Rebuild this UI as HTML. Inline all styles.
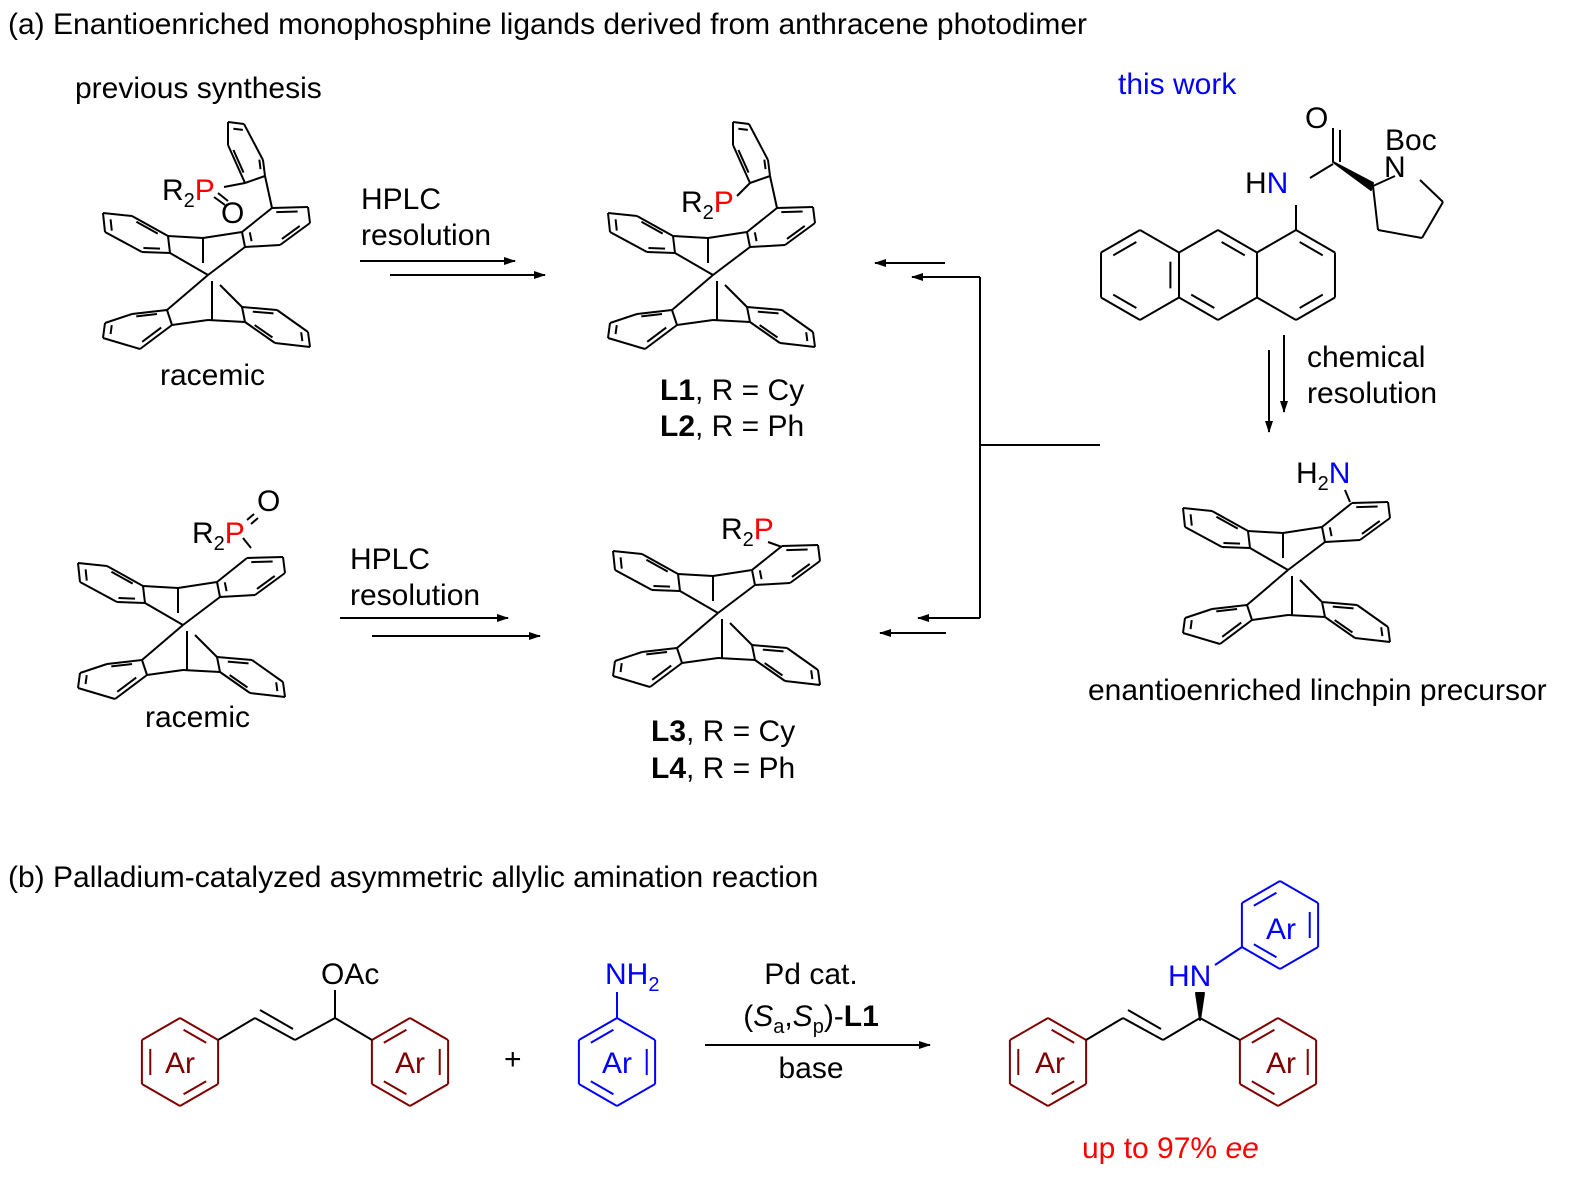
<!DOCTYPE html>
<html><head><meta charset="utf-8">
<style>
body{margin:0;background:#fff;}
svg{display:block;}
text{font-family:"Liberation Sans",Arial,sans-serif;font-size:30px;fill:#000;}
</style></head>
<body>
<svg id="s" width="1589" height="1192" viewBox="0 0 1589 1192" xmlns="http://www.w3.org/2000/svg">
<defs>
<marker id="ah" markerWidth="12" markerHeight="8" refX="11" refY="4" orient="auto" markerUnits="userSpaceOnUse">
<path d="M0,0 L12,4 L0,8 z" fill="#000"/></marker>
</defs>
<g id="g" stroke="#000" stroke-width="2" fill="none" stroke-linejoin="round"></g>
<text x="8" y="34">(a) Enantioenriched monophosphine ligands derived from anthracene photodimer</text>
<text x="75" y="98">previous synthesis</text>
<text x="1118" y="94" style="fill:#0000ff">this work</text>
<text x="160" y="385">racemic</text>
<text x="145" y="727">racemic</text>
<text x="361" y="209">HPLC</text>
<text x="361" y="245">resolution</text>
<text x="350" y="569">HPLC</text>
<text x="350" y="605">resolution</text>
<text x="660" y="400"><tspan font-weight="bold">L1</tspan>, R = Cy</text>
<text x="660" y="436"><tspan font-weight="bold">L2</tspan>, R = Ph</text>
<text x="651" y="741"><tspan font-weight="bold">L3</tspan>, R = Cy</text>
<text x="651" y="778"><tspan font-weight="bold">L4</tspan>, R = Ph</text>
<text x="1307" y="367">chemical</text>
<text x="1307" y="403">resolution</text>
<text x="1088" y="700">enantioenriched linchpin precursor</text>
<text x="162" y="200">R<tspan font-size="20" dy="7">2</tspan><tspan dy="-7" style="fill:#ff0000">P</tspan></text>
<text x="221" y="223">O</text>
<text x="681" y="212">R<tspan font-size="20" dy="7">2</tspan><tspan dy="-7" style="fill:#ff0000">P</tspan></text>
<text x="192" y="543">R<tspan font-size="20" dy="7">2</tspan><tspan dy="-7" style="fill:#ff0000">P</tspan></text>
<text x="257" y="511">O</text>
<text x="721" y="539">R<tspan font-size="20" dy="7">2</tspan><tspan dy="-7" style="fill:#ff0000">P</tspan></text>
<text x="1296" y="483">H<tspan font-size="20" dy="7">2</tspan><tspan dy="-7" style="fill:#0000ff">N</tspan></text>
<text x="1245" y="193">H<tspan style="fill:#0000ff">N</tspan></text>
<text x="1305" y="128">O</text>
<text x="1385" y="150">Boc</text>
<text x="1384" y="177">N</text>
<text x="8" y="887">(b) Palladium-catalyzed asymmetric allylic amination reaction</text>
<text x="321" y="984">OAc</text>
<text x="605" y="984" style="fill:#0000ff">NH<tspan font-size="20" dy="7">2</tspan></text>
<text x="504" y="1069">+</text>
<text x="811" y="984" text-anchor="middle">Pd cat.</text>
<text x="811" y="1026" text-anchor="middle">(<tspan font-style="italic">S</tspan><tspan font-size="20" dy="7">a</tspan><tspan dy="-7">,</tspan><tspan font-style="italic">S</tspan><tspan font-size="20" dy="7">p</tspan><tspan dy="-7">)-</tspan><tspan font-weight="bold">L1</tspan></text>
<text x="811" y="1078" text-anchor="middle">base</text>
<text x="1168" y="986" style="fill:#0000ff">HN</text>
<text x="1082" y="1158" style="fill:#ff0000">up to 97% <tspan font-style="italic">ee</tspan></text>
<g font-size="31">
<text x="180" y="1073" text-anchor="middle" style="fill:#800000">Ar</text>
<text x="410" y="1073" text-anchor="middle" style="fill:#800000">Ar</text>
<text x="617" y="1073" text-anchor="middle" style="fill:#0000ff">Ar</text>
<text x="1050" y="1073" text-anchor="middle" style="fill:#800000">Ar</text>
<text x="1281" y="1073" text-anchor="middle" style="fill:#800000">Ar</text>
<text x="1281" y="939" text-anchor="middle" style="fill:#0000ff">Ar</text>
</g>
</svg>
<script>
var g=document.getElementById('g');
function L(x1,y1,x2,y2,c,extra){var e=document.createElementNS('http://www.w3.org/2000/svg','line');
e.setAttribute('x1',x1);e.setAttribute('y1',y1);e.setAttribute('x2',x2);e.setAttribute('y2',y2);
if(c)e.setAttribute('stroke',c);if(extra)e.setAttribute('marker-end','url(#ah)');g.appendChild(e);}
function ring(p,dbl,c){var cx=0,cy=0;p.forEach(function(q){cx+=q[0];cy+=q[1]});cx/=6;cy/=6;
for(var i=0;i<6;i++){var a=p[i],b=p[(i+1)%6];L(a[0],a[1],b[0],b[1],c);
if(dbl.indexOf(i)>=0){var f=0.78;var ax=cx+(a[0]-cx)*f,ay=cy+(a[1]-cy)*f,bx=cx+(b[0]-cx)*f,by=cy+(b[1]-cy)*f;
var mx=(bx-ax)*0.12,my=(by-ay)*0.12;L(ax+mx,ay+my,bx-mx,by-my,c);}}}
function hex(cx,cy,r,dbl,c){var p=[];for(var i=0;i<6;i++){var a=Math.PI/180*(-90+60*i);p.push([cx+r*Math.cos(a),cy+r*Math.sin(a)]);}ring(p,dbl,c);}
function dimer(ox,oy){function t(a){return a.map(function(q){return [q[0]+ox,q[1]+oy]})}
ring(t([[-105,-62],[-76,-59],[-40,-39],[-38,-22],[-66,-23],[-103,-43]]),[1,3,5]);
ring(t([[34,-43],[64,-67],[100,-68],[102,-52],[72,-30],[37,-28]]),[1,3,5]);
ring(t([[-105,63],[-68,74],[-36,50],[-41,35],[-76,39],[-103,48]]),[1,3,5]);
ring(t([[34,32],[69,35],[100,57],[102,72],[67,68],[37,47]]),[0,2,4]);
var s=[[-5,-37,-40,-39],[-5,-37,34,-43],[-5,-37,-5,-12],[-38,-22,0,0],[37,-28,0,0],[0,0,-41,35],[4,6,4,45],[0,45,-36,50],[0,45,37,47],[12,10,34,32]];
s.forEach(function(q){L(q[0]+ox,q[1]+oy,q[2]+ox,q[3]+oy)});}
dimer(208,275);dimer(713,275);dimer(183,625);dimer(718,613);dimer(1288,570);
ring([[228,122],[244,124],[263,160],[265,176],[245,183],[228,145]],[0,2,4]);L(265,176,272,208);L(224,187,245,183);
ring([[733,122],[749,124],[768,160],[770,176],[750,183],[733,145]],[0,2,4]);L(770,176,777,208);L(737,196,750,183);
L(214,197,225,205);L(218,193,228,201);
L(247,520,254,514);L(251,524,258,518);L(243,538,251,548);
L(768,542,782,547);
L(1345,490,1350,502);
L(360,261,515,261,0,1);L(390,275,545,275,0,1);
L(340,618,508,618,0,1);L(372,636,540,636,0,1);
L(945,263,875,263,0,1);L(980,277,912,277,0,1);L(980,277,980,618);L(980,618,918,618,0,1);L(946,633,880,633,0,1);L(980,445,1100,445);
L(1284,335,1284,412,0,1);L(1269,350,1269,432,0,1);
var r=45;function hx(cx,cy,d){var p=[];for(var i=0;i<6;i++){var a=Math.PI/180*(-90+60*i);p.push([cx+r*Math.cos(a),cy+r*Math.sin(a)]);}ring(p,d);}
hx(1140,275,[1,3,5]);hx(1218,275,[0,3]);hx(1296,275,[0,2]);
L(1296,230,1296,205);L(1310,178,1333,164);L(1333,162,1333,128);L(1340,162,1340,130);
var w=document.createElementNS('http://www.w3.org/2000/svg','path');w.setAttribute('d','M1333,162 L1373,183 L1371,190 z');w.setAttribute('fill','#000');g.appendChild(w);
L(1373,186,1395,176);L(1373,186,1378,230);L(1378,230,1422,238);L(1422,238,1443,202);L(1443,202,1420,180);
var R='#800000',B='#0000ff';
hex(180,1062,44,[0,2,4],R);hex(410,1062,44,[1,3,5],R);hex(617,1062,44,[1,3,5],B);
hex(1048,1062,44,[0,2,4],R);hex(1278,1062,44,[1,3,5],R);hex(1280,925,44,[1,3,5],B);
L(218,1040,255,1018);L(255,1018,295,1040);L(260,1010,293,1029);L(295,1040,335,1018);L(335,1018,372,1040);L(335,1018,335,990);
L(617,1018,617,992,B);
L(705,1045,930,1045,0,1);
L(1086,1040,1123,1018);L(1123,1018,1163,1040);L(1128,1010,1161,1029);L(1163,1040,1200,1018);L(1200,1018,1240,1040);
var w2=document.createElementNS('http://www.w3.org/2000/svg','path');w2.setAttribute('d','M1200,1020 L1196,993 L1204,993 z');w2.setAttribute('fill','#000');g.appendChild(w2);
L(1215,965,1242,947,B);
</script>
</body></html>
